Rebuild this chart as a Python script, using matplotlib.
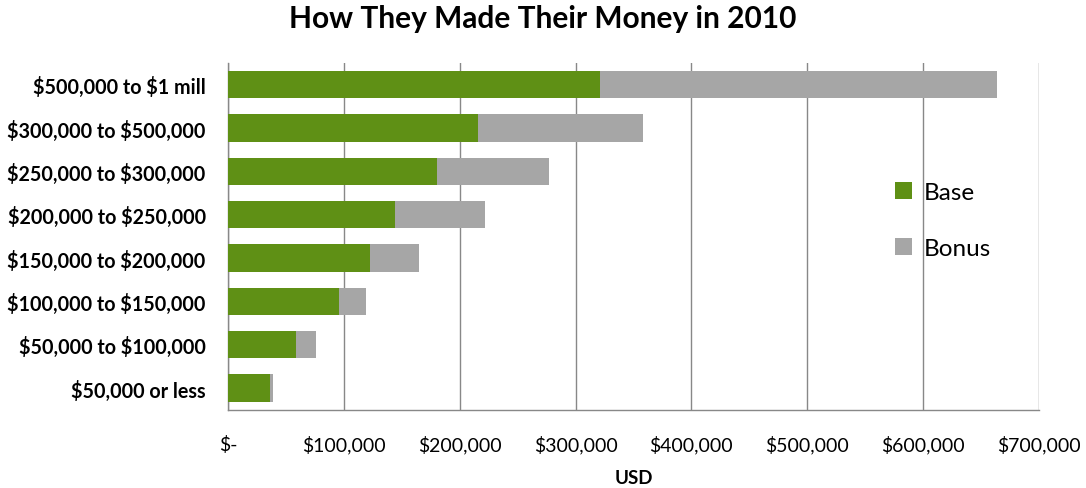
import numpy as np
import matplotlib.pyplot as plt
from matplotlib.ticker import FuncFormatter

plt.rcParams['font.family'] = ['Lato', 'DejaVu Sans']
plt.rcParams['text.parse_math'] = False

brackets = ['$50,000 or less', '$50,000 to $100,000', '$100,000 to $150,000',
            '$150,000 to $200,000', '$200,000 to $250,000', '$250,000 to $300,000',
            '$300,000 to $500,000', '$500,000 to $1 mill']
base  = [36000, 59000, 96000, 123000, 144000, 180000, 216000, 321000]
bonus = [3000, 17000, 23000, 42000, 78000, 97000, 142000, 343000]

GREEN = '#5f9015'
GREY = '#a6a6a6'
GRID = '#888888'

fig = plt.figure(figsize=(10.86, 4.89), dpi=100)
ax = fig.add_axes([0.2099, 0.160, 0.7468, 0.709])

y = np.arange(len(brackets))
ax.barh(y, base, height=0.63, color=GREEN, label='Base', zorder=3)
ax.barh(y, bonus, left=base, height=0.63, color=GREY, label='Bonus', zorder=3)

ax.set_xlim(0, 700000)
ax.set_ylim(-0.5, len(brackets) - 0.5)
ax.set_xticks(np.arange(0, 700001, 100000))
ax.xaxis.set_major_formatter(FuncFormatter(
    lambda v, _: '$-' if v == 0 else f'${v:,.0f}'))
ax.set_yticks(y)
ax.set_yticklabels(brackets, fontweight='bold', fontsize=14.2)
ax.tick_params(axis='x', length=0, pad=18, labelsize=14)
ax.tick_params(axis='y', length=0, pad=16)

ax.grid(axis='x', color=GRID, lw=1.0, zorder=0)
for side in ('top', 'right'):
    ax.spines[side].set_visible(False)
for side in ('left', 'bottom'):
    ax.spines[side].set_color(GRID)
    ax.spines[side].set_linewidth(1.0)

ax.set_xlabel('USD', fontweight='bold', fontsize=13.5, labelpad=11)

fig.suptitle('How They Made Their Money in 2010', fontweight='bold',
             fontsize=21.5, x=0.5, y=0.99)

ax.legend(loc='upper left', bbox_to_anchor=(0.795, 0.72), frameon=False,
          fontsize=17.5, handlelength=0.7, handleheight=0.7,
          handletextpad=0.5, labelspacing=1.45)

fig.savefig('out.png', dpi=100, facecolor='white')
